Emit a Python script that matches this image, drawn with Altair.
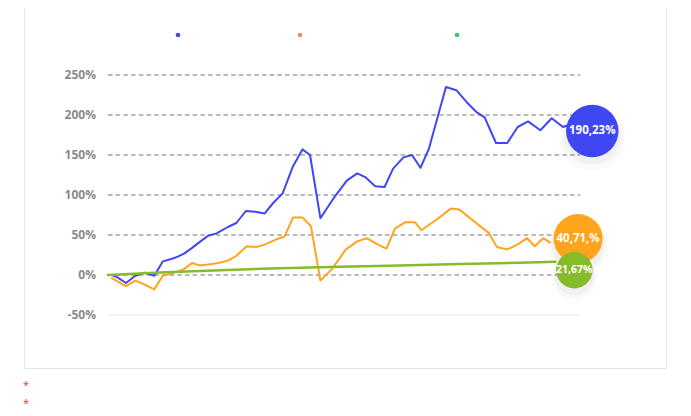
import altair as alt
import pandas as pd

# ---- data ----
blue_t = [0.4, 1.0, 1.9, 2.9, 3.9, 4.9, 5.8, 6.7, 7.4, 8.1, 8.8, 9.8, 10.6, 11.5, 12.7, 13.6,
          14.6, 15.6, 16.6, 17.5, 18.5, 19.6, 20.6, 21.4, 22.5, 23.9, 25.3, 26.4, 27.3, 28.3,
          29.3, 30.2, 31.3, 32.2, 33.1, 34.0, 35.8, 36.9, 38.0, 39.0, 39.9, 41.1, 42.3, 43.4,
          44.5, 45.8, 47.0, 48.2, 49.5]
blue_v = [0, -3, -10, -1, 3, -1, 17, 20, 23, 27, 33, 42, 49, 52, 60, 65,
          80, 79, 77, 90, 102, 136, 157, 150, 71, 96, 118, 127, 122, 111,
          110, 133, 147, 150, 134, 158, 235, 231, 216, 204, 197, 165, 165, 185,
          192, 181, 196, 185, 190.23]

orange_t = [0.4, 1.9, 2.9, 3.9, 4.9, 5.8, 6.8, 8.0, 8.9, 9.7, 10.6, 11.7, 12.7, 13.6, 14.7,
            15.7, 16.6, 17.7, 18.7, 19.6, 20.6, 21.5, 22.5, 23.7, 25.2, 26.4, 27.4, 28.6,
            29.5, 30.4, 31.5, 32.5, 33.2, 35.0, 36.3, 37.2, 39.1, 40.3, 41.2, 42.3, 43.5,
            44.4, 45.2, 46.1, 46.8]
orange_v = [-4, -14, -7, -12, -18, -1, 2, 7, 15, 12, 13, 15, 18, 24, 36,
            35, 38, 44, 48, 72, 72, 61, -7, 7, 32, 42, 46, 38,
            33, 58, 66, 66, 56, 71, 83, 82, 64, 53, 35, 32, 39,
            46, 36, 46, 40.71]

green_t = [0.0, 5.5, 11.9, 18.2, 24.6, 30.9, 37.3, 43.6, 47.4]
green_v = [0, 3, 6, 8.5, 10.2, 12, 13.6, 15.2, 16.5]

y_ticks = [-50, 0, 50, 100, 150, 200, 250]
y_tick_labels = ["-50%", "0%", "50%", "100%", "150%", "200%", "250%"]

bubble_labels = ["190,23%", "40,71,%", "21,67%"]
bubble_t = [51.3, 49.8, 49.4]
bubble_v = [180, 45.5, 6]

BLUE = "#3f47f3"
ORANGE = "#ffa41c"
GREEN = "#86bb2b"
FONT = "Open Sans"

def series_df(t, v):
    return pd.DataFrame({"t": t, "v": v})

xscale = alt.Scale(domain=[0, 50], nice=False, zero=False)
yscale = alt.Scale(domain=[-50, 250], nice=False, zero=False)

X = alt.X("t:Q", scale=xscale, axis=None)
Y = alt.Y("v:Q", scale=yscale, axis=None)

one = pd.DataFrame({"a": [0]})

# grid + tick labels
grid_df = pd.DataFrame({"v": y_ticks, "lab": y_tick_labels})
grid = alt.Chart(grid_df).mark_rule(strokeWidth=1).encode(
    y=Y,
    x=alt.value(0), x2=alt.value(472),
    color=alt.condition("datum.v == -50", alt.value("#e3eaf3"), alt.value("#737373")),
    strokeDash=alt.condition("datum.v == -50", alt.value([1, 0]), alt.value([4.5, 3.2])),
)
tick_labels = alt.Chart(grid_df).mark_text(
    align="right", baseline="middle", font=FONT, fontSize=12, fontWeight="bold",
    color="#8a8a8a"
).encode(y=Y, x=alt.value(-12), text="lab:N")

def line(t, v, color, width):
    return alt.Chart(series_df(t, v)).mark_line(
        color=color, strokeWidth=width, strokeJoin="round", strokeCap="round"
    ).encode(x=X, y=Y)

orange_line = line(orange_t, orange_v, ORANGE, 2)
blue_line = line(blue_t, blue_v, BLUE, 2)
green_line = line(green_t, green_v, GREEN, 2.5)

bubble_colors = [BLUE, ORANGE, GREEN]
bubble_sizes = [2750, 2400, 1330]
bubble_fonts = [11.5, 11.5, 10.5]

bubbles = []
for i in range(3):
    d = pd.DataFrame({"t": [bubble_t[i]], "v": [bubble_v[i]], "lab": [bubble_labels[i]]})
    base = alt.Chart(d).encode(x=X, y=Y)
    sh1 = base.mark_circle(color="#000000", opacity=0.025, size=bubble_sizes[i] * 1.5, yOffset=7)
    sh2 = base.mark_circle(color="#000000", opacity=0.03, size=bubble_sizes[i] * 1.2, yOffset=5)
    c = base.mark_circle(color=bubble_colors[i], opacity=1, size=bubble_sizes[i])
    tx = base.mark_text(color="white", font=FONT, fontWeight="bold",
                        fontSize=bubble_fonts[i]).encode(text="lab:N")
    bubbles += [sh1, sh2, c, tx]

# card border (left, right, bottom)
border_left = alt.Chart(one).mark_rule(color="#e4e4e4", strokeWidth=1).encode(
    x=alt.value(-83.5), y=alt.value(-67), y2=alt.value(293.5))
border_right = alt.Chart(one).mark_rule(color="#e4e4e4", strokeWidth=1).encode(
    x=alt.value(558.5), y=alt.value(-67), y2=alt.value(293.5))
border_bottom = alt.Chart(one).mark_rule(color="#e4e4e4", strokeWidth=1).encode(
    x=alt.value(-83.5), x2=alt.value(558.5), y=alt.value(293.5))

# legend dots
legend_colors = ["#4a4cf0", "#f58a5e", "#2ecc71"]
legend_x = [70, 192, 349]
legend = [alt.Chart(one).mark_circle(color=legend_colors[i], size=22, opacity=1).encode(
    x=alt.value(legend_x[i]), y=alt.value(-40)) for i in range(3)]

# red asterisks
stars = [alt.Chart(one).mark_text(text="*", color="#e53935", font=FONT, fontSize=11,
                                  align="center", baseline="middle").encode(
    x=alt.value(-82), y=alt.value(yy)) for yy in [311, 329]]

chart = alt.layer(
    grid, tick_labels, border_left, border_right, border_bottom, *legend, *stars,
    orange_line, blue_line, green_line, *bubbles
).properties(
    width=472, height=240,
    autosize=alt.AutoSizeParams(type="none"),
    padding={"left": 100, "top": 67, "right": 100, "bottom": 94},
).configure_view(stroke=None)

chart.save("out.html", embed_options={"renderer": "svg", "actions": False})
